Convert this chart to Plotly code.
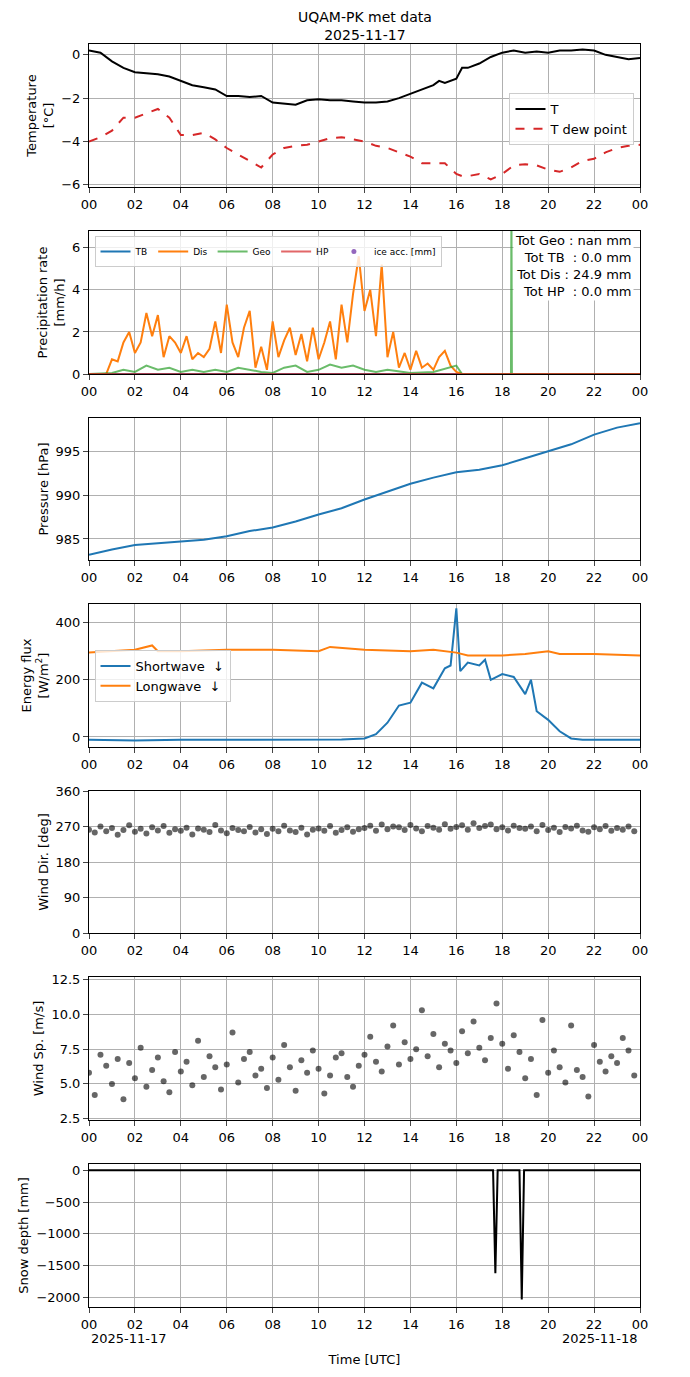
import plotly.graph_objects as go
from plotly.subplots import make_subplots
import pandas as pd

base = pd.Timestamp("2025-11-17 00:00")

# temperature, every 30 min
t_hours = [0,0.5,1,1.5,2,2.5,3,3.5,4,4.5,5,5.5,6,6.5,7,7.5,8,8.5,9,9.5,10,10.5,11,11.5,12,12.5,13,13.5,14,14.5,15,15.25,15.5,16,16.25,16.5,17,17.5,18,18.5,19,19.5,20,20.5,21,21.5,22,22.5,23,23.5,24]
temp = [0.2,0.1,-0.3,-0.6,-0.8,-0.85,-0.9,-1.0,-1.2,-1.4,-1.5,-1.6,-1.9,-1.9,-1.95,-1.9,-2.2,-2.25,-2.3,-2.1,-2.05,-2.1,-2.1,-2.15,-2.2,-2.2,-2.15,-2.0,-1.8,-1.6,-1.4,-1.2,-1.3,-1.1,-0.6,-0.6,-0.4,-0.1,0.1,0.2,0.1,0.15,0.1,0.2,0.2,0.25,0.2,0.0,-0.1,-0.2,-0.15]
dew = [-4.0,-3.8,-3.5,-2.9,-2.9,-2.7,-2.5,-2.9,-3.7,-3.7,-3.6,-3.9,-4.3,-4.6,-4.9,-5.2,-4.6,-4.3,-4.2,-4.15,-4.0,-3.85,-3.8,-3.9,-4.0,-4.2,-4.3,-4.5,-4.7,-5.0,-5.0,-5.0,-5.0,-5.5,-5.6,-5.6,-5.5,-5.75,-5.5,-5.1,-5.05,-5.1,-5.3,-5.4,-5.2,-4.9,-4.8,-4.5,-4.3,-4.2,-4.15]

# precipitation rate
dis_hours = [0,0.75,1,1.25,1.5,1.75,2,2.25,2.5,2.75,3,3.25,3.5,3.75,4,4.25,4.5,4.75,5,5.25,5.5,5.75,6,6.25,6.5,6.75,7,7.25,7.5,7.75,8,8.25,8.5,8.75,9,9.25,9.5,9.75,10,10.25,10.5,10.75,11,11.25,11.5,11.75,12,12.25,12.5,12.75,13,13.25,13.5,13.75,14,14.25,14.5,14.75,15,15.25,15.5,15.75,16,16.25,24]
dis = [0,0,0.7,0.6,1.5,2.0,1.0,1.5,2.9,1.8,2.8,0.8,1.8,1.5,1.0,1.8,0.7,1.0,0.8,1.2,2.5,1.0,3.3,1.5,0.8,2.2,3.0,0.3,1.3,0.2,2.5,0.8,1.6,2.2,0.9,1.9,0.6,2.2,0.7,1.5,2.5,0.7,3.3,1.5,3.8,5.6,3.0,4.0,1.8,5.2,0.8,2.0,0.3,1.0,0.2,1.1,0.3,0.5,0.2,0.8,1.1,0.4,0.1,0,0]
geo_hours = [0,1,1.5,2,2.5,3,3.5,4,4.5,5,5.5,6,6.5,7,7.5,8,8.5,9,9.5,10,10.5,11,11.5,12,12.5,13,14,15,16,16.25,18.38,18.4,18.42,24]
geo = [0,0.05,0.2,0.1,0.4,0.2,0.3,0.1,0.2,0.1,0.2,0.1,0.3,0.2,0.1,0.05,0.3,0.4,0.1,0.2,0.45,0.3,0.4,0.2,0.1,0.2,0.05,0.1,0.4,0,0,8,0,0]
flat_hours = [0,24]
tb = [0,0]
hp = [0,0]

# pressure, hourly
p_hours = list(range(25))
pres = [983.2,983.8,984.3,984.5,984.7,984.9,985.3,985.9,986.3,987.0,987.8,988.5,989.5,990.4,991.3,992.0,992.6,992.9,993.4,994.2,995.0,995.8,996.9,997.7,998.2]

# radiation
sw_hours = [0,2,4,6,8,10,11,12,12.5,13,13.5,14,14.5,15,15.5,15.75,16,16.17,16.5,17,17.25,17.5,18,18.5,19,19.25,19.5,20,20.5,21,21.5,24]
sw = [-10,-12,-10,-9,-9,-9,-9,-5,10,50,110,120,190,170,240,250,450,230,260,250,270,200,220,210,150,200,90,60,20,-5,-10,-10]
lw_hours = [0,1,2,2.75,3,4,6,8,10,10.5,12,14,15,16,16.5,18,19,20,20.5,22,24]
lw = [295,300,305,320,300,300,305,305,300,315,305,300,305,295,285,285,290,300,290,290,285]

# wind, every 15 min
w_hours = [i * 0.25 for i in range(96)]
wd = [262,255,270,258,266,249,261,273,257,264,252,268,260,271,254,263,
      259,267,250,265,262,256,274,260,253,266,261,258,269,255,263,251,
      264,258,272,260,256,267,250,262,265,259,271,254,261,268,257,263,
      266,272,259,275,263,270,268,261,274,265,258,271,267,262,276,264,
      269,273,262,278,266,271,275,263,268,260,272,266,264,270,258,274,
      261,267,256,269,265,272,260,257,268,263,271,259,266,262,270,258]
ws = [5.8,4.2,7.1,6.3,5.0,6.8,3.9,6.5,5.4,7.6,4.8,6.0,6.9,5.2,4.4,7.3,
      5.9,6.6,4.9,8.1,5.5,7.0,6.2,4.6,6.4,8.7,5.1,6.8,7.3,5.6,6.1,4.7,
      6.9,5.3,7.8,6.2,4.5,6.7,5.8,7.4,6.1,4.3,5.6,6.9,7.2,5.5,4.8,6.3,
      7.1,8.4,6.6,5.9,7.7,9.2,6.4,8.0,6.8,7.5,10.3,7.0,8.6,6.2,7.9,7.4,
      6.5,8.8,7.2,9.5,7.6,6.7,8.3,10.8,7.9,6.1,8.5,7.3,5.4,6.8,4.2,9.6,
      5.8,7.4,6.2,5.1,9.2,6.0,5.5,4.1,7.8,6.6,5.9,7.0,6.5,8.3,7.4,5.6]

# snow depth
sd_hours = [0,17.6,17.7,17.8,18.75,18.85,18.95,24]
sd = [0,0,-1620,0,0,-2030,0,0]

def tt(h):
    return [base + pd.Timedelta(hours=x) for x in h]

def ln(x, y, **kw):
    return go.Scatter(x=tt(x), y=y, mode="lines", **kw)

fig = make_subplots(rows=7, cols=1)
fig.add_trace(ln(t_hours, temp, name="T", line=dict(color="black", width=2), legend="legend"), 1, 1)
fig.add_trace(ln(t_hours, dew, name="T dew point", line=dict(color="#d62728", width=2, dash="dash"), legend="legend"), 1, 1)

fig.add_trace(ln(flat_hours, tb, name="TB", line=dict(color="#1f77b4"), legend="legend2"), 2, 1)
fig.add_trace(ln(dis_hours, dis, name="Dis", line=dict(color="#ff7f0e", width=2), legend="legend2"), 2, 1)
fig.add_trace(ln(geo_hours, geo, name="Geo", line=dict(color="#2ca02c", width=2), opacity=0.7, legend="legend2"), 2, 1)
fig.add_trace(ln(flat_hours, hp, name="HP", line=dict(color="#d62728"), opacity=0.7, legend="legend2"), 2, 1)
fig.add_trace(go.Scatter(x=[None], y=[None], name="ice acc. [mm]", mode="markers",
                         marker=dict(color="#9467bd", size=5), legend="legend2"), 2, 1)

fig.add_trace(ln(p_hours, pres, showlegend=False, line=dict(color="#1f77b4", width=2)), 3, 1)

fig.add_trace(ln(sw_hours, sw, name="Shortwave  ↓", line=dict(color="#1f77b4", width=2), legend="legend4"), 4, 1)
fig.add_trace(ln(lw_hours, lw, name="Longwave  ↓", line=dict(color="#ff7f0e", width=2), legend="legend4"), 4, 1)

fig.add_trace(go.Scatter(x=tt(w_hours), y=wd, mode="markers", showlegend=False,
                         marker=dict(color="black", size=6, opacity=0.6)), 5, 1)
fig.add_trace(go.Scatter(x=tt(w_hours), y=ws, mode="markers", showlegend=False,
                         marker=dict(color="black", size=6, opacity=0.6)), 6, 1)
fig.add_trace(ln(sd_hours, sd, showlegend=False, line=dict(color="black", width=2)), 7, 1)

# page body has an 8px margin; work in reference pixels shifted by it
OFF = 8
W, HT = 690 - 2 * OFF, 1377 - 2 * OFF
L, R, T, B = 89 - OFF, 640 - OFF, 44 - OFF, 1307 - OFF
H = B - T

def py(p):
    return (B - (p - OFF)) / H

panels = [(44, 187), (231, 374), (418, 560), (604, 747), (791, 933), (977, 1120), (1164, 1307)]
ax = dict(showline=True, mirror=True, linecolor="black", linewidth=1, ticks="outside", automargin=False,
          showgrid=True, gridcolor="#b0b0b0", zeroline=False, tickfont=dict(size=13, color="black"))
for i, (top, bot) in enumerate(panels):
    n = "" if i == 0 else str(i + 1)
    fig.layout["yaxis" + n].update(domain=[py(bot), py(top)], **ax)
    fig.layout["xaxis" + n].update(range=[base, base + pd.Timedelta(hours=24)], dtick=2 * 3600000,
                                   tickformat="%H", **ax)

ytitles = ["Temperature<br>[°C]", "Precipitation rate<br>[mm/h]", "Pressure [hPa]",
           "Energy flux<br>[W/m<sup>2</sup>]", "Wind Dir. [deg]", "Wind Sp. [m/s]", "Snow depth [mm]"]
for i, t in enumerate(ytitles):
    n = "" if i == 0 else str(i + 1)
    fig.layout["yaxis" + n].title = dict(text=t, font=dict(size=13), standoff=4)

fig.update_yaxes(range=[-6.1, 0.5], tickvals=[-6, -4, -2, 0], row=1, col=1)
fig.update_yaxes(range=[0, 6.8], tickvals=[0, 2, 4, 6], row=2, col=1)
fig.update_yaxes(range=[982.6, 998.8], tickvals=[985, 990, 995], row=3, col=1)
fig.update_yaxes(range=[-35, 465], tickvals=[0, 200, 400], row=4, col=1)
fig.update_yaxes(range=[0, 360], tickvals=[0, 90, 180, 270, 360], row=5, col=1)
fig.update_yaxes(range=[2.4, 12.7], tickvals=[2.5, 5.0, 7.5, 10.0, 12.5], tickformat=".1f", row=6, col=1)
fig.update_yaxes(range=[-2150, 100], tickvals=[-2000, -1500, -1000, -500, 0], row=7, col=1)
fig.update_xaxes(title=dict(text="Time [UTC]", font=dict(size=13), standoff=24), row=7, col=1)

leg = dict(bgcolor="rgba(255,255,255,0.8)", bordercolor="#cccccc", borderwidth=1, font=dict(size=13))
fig.update_layout(
    legend=dict(x=0.99, y=py(93), xanchor="right", yanchor="top", **leg),
    legend2=dict(x=0.01, y=py(236), xanchor="left", yanchor="top", orientation="h",
                 bgcolor="rgba(255,255,255,0.8)", bordercolor="#cccccc", borderwidth=1, font=dict(size=9),
                 itemwidth=30),
    legend4=dict(x=0.01, y=py(650), xanchor="left", yanchor="top", **leg),
)

fig.add_annotation(xref="paper", yref="paper", x=0.99, y=py(231), xanchor="right", yanchor="top",
                   text="Tot Geo : nan mm<br>Tot TB  : 0.0 mm<br>Tot Dis : 24.9 mm<br>Tot HP  : 0.0 mm",
                   align="right", showarrow=False, bgcolor="white", font=dict(size=13, color="black"))
fig.add_annotation(xref="paper", yref="paper", x=0, y=py(1329), yanchor="top", text="2025-11-17",
                   showarrow=False, font=dict(size=13, color="black"))
fig.add_annotation(xref="paper", yref="paper", x=1, y=py(1329), yanchor="top", text="2025-11-18",
                   showarrow=False, font=dict(size=13, color="black"))
# title as an annotation just above the top panel
fig.add_annotation(xref="paper", yref="paper", x=0.5, y=py(44), yanchor="bottom", xanchor="center",
                   text="UQAM-PK met data<br>2025-11-17", showarrow=False, borderpad=0,
                   font=dict(size=14, color="black"))

fig.update_layout(
    width=W, height=HT,
    margin=dict(l=L, r=W - R, t=T, b=HT - B),
    font=dict(family="DejaVu Sans", color="black"),
    plot_bgcolor="white", paper_bgcolor="white",
)
fig.write_html("out.html")
